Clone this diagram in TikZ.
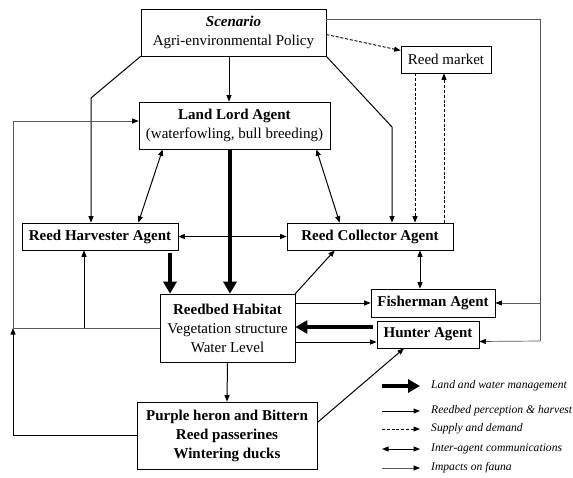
\documentclass[tikz,border=0pt]{standalone}
\usepackage{fontspec}
\setmainfont{Liberation Serif}
\usetikzlibrary{arrows.meta,calc}
\begin{document}
\begin{tikzpicture}[x=1pt,y=-1pt,
  box/.style={draw,line width=0.7pt,align=center,inner sep=0pt,font=\fontsize{15pt}{19pt}\selectfont},
  nar/.style={line width=1pt,-{Triangle[length=6.5pt 0,width=5pt 0]}},
  dar/.style={line width=1pt,{Triangle[length=6.5pt 0,width=5pt 0]}-{Triangle[length=6.5pt 0,width=5pt 0]}},
  thk/.style={line width=4.5pt,-{Triangle[length=12pt 0,width=13pt 0]}},
  dsh/.style={line width=0.9pt,dash pattern=on 3pt off 1.8pt,-{Triangle[length=6.5pt 0,width=5pt 0]}},
  imp/.style={line width=0.7pt,draw=black!65},
  impar/.style={imp,-{Triangle[length=6.5pt 0,width=5pt 0,color=black]}},
  leg/.style={anchor=west,inner sep=0pt,font=\fontsize{11.6pt}{14pt}\selectfont\itshape}]
\useasboundingbox (0,0) rectangle (573,477);
% nodes
\node[box,minimum width=185pt,minimum height=47pt] (scen) at (233.5,32.5) {\textbf{\textit{Scenario}}\\Agri-environmental Policy};
\node[box,minimum width=90pt,minimum height=27pt] (mkt) at (446,59.5) {Reed market};
\node[box,minimum width=191pt,minimum height=47pt] (land) at (234.5,125.5) {\textbf{Land Lord Agent}\\(waterfowling, bull breeding)};
\node[box,minimum width=156pt,minimum height=27pt] (harv) at (100,236.5) {\textbf{Reed Harvester Agent}};
\node[box,minimum width=166pt,minimum height=27pt] (coll) at (370,236.5) {\textbf{Reed Collector Agent}};
\node[box,minimum width=135pt,minimum height=68pt] (reed) at (227.5,328) {\textbf{Reedbed Habitat}\\Vegetation structure\\Water Level};
\node[box,minimum width=124pt,minimum height=28pt] (fish) at (433,303) {\textbf{Fisherman Agent}};
\node[box,minimum width=102pt,minimum height=27pt] (hunt) at (428,334.5) {\textbf{Hunter Agent}};
\node[box,minimum width=180pt,minimum height=67pt] (heron) at (227,435.5) {\textbf{Purple heron and Bittern}\\\textbf{Reed passerines}\\\textbf{Wintering ducks}};
% helper coordinates
\coordinate (c1) at (91,98);
\coordinate (c2) at (392,127);
\coordinate (L1) at (13,328);
\coordinate (L2) at ([yshift=4.5pt]land.west);
\coordinate (L3) at (84,328);
\coordinate (R1) at (540,19);
\coordinate (R2) at (540,341);
\coordinate (h1) at ([yshift=7.5pt]hunt.west);
\coordinate (h2) at ([yshift=-7.5pt]hunt.west);
\coordinate (h3) at ([yshift=-7pt]hunt.east);
\coordinate (t1) at ([xshift=-4.5pt]land.south);
\coordinate (t2) at ([xshift=70pt,yshift=-3pt]harv.south);
\coordinate (m1) at ([xshift=-31pt]mkt.south);
\coordinate (m2) at ([xshift=-2pt]mkt.south);
\coordinate (f1) at ([xshift=-13pt]fish.north);
% scenario links
\draw[nar] (scen.south west) -- (c1) -- (c1 |- harv.north);
\draw[nar] ([xshift=-4.5pt]scen.south) -- ([xshift=-4.5pt]scen.south |- land.north);
\draw[nar] (scen.south east) -- (c2) -- (c2 |- coll.north);
\draw[dsh] ([yshift=-2pt]scen.east) -- ([yshift=9pt]mkt.west);
\draw[dsh] (m1) -- (m1 |- coll.north);
\draw[dsh] (m2 |- coll.north) -- (m2);
% inter-agent
\draw[dar] ([xshift=24pt]land.south west) -- ([xshift=-40pt]harv.north east);
\draw[dar] ([xshift=-14pt]land.south east) -- ([xshift=53pt]coll.north west);
\draw[dar] (harv.east) -- (coll.west);
\draw[dar] (f1 |- coll.south) -- (f1);
% management
\draw[thk] (t1) -- (t1 |- reed.north);
\draw[thk] (t2) -- (t2 |- reed.north);
\draw[thk] ([xshift=-4pt]h1) -- (h1 -| reed.east);
% perception
\draw[nar] (reed.north east) -- ([xshift=48pt]coll.south west);
\draw[nar] (reed.east |- fish.west) -- (fish.west);
\draw[nar] (h2 -| reed.east) -- (h2);
\draw[nar] (reed.south) -- (heron.north);
\draw[nar] ([yshift=13pt]heron.east) -- ([xshift=-24pt]hunt.south);
\draw[nar] (heron.west) -| (L1);
\draw[nar] (L3) -- (L3 |- harv.south);
% impacts
\draw[imp] (reed.west) -- (L1);
\draw[impar] (L1) |- (L2);
\draw[imp] (R1 -| scen.east) -- (R1) -- (R2);
\draw[impar] (R1 |- fish.east) -- (fish.east);
\draw[impar] (R2) -- (h3);
% legend
\coordinate (g1) at (382,386);
\coordinate (g2) at (382,411);
\coordinate (g3) at (382,429);
\coordinate (g4) at (382,449);
\coordinate (g5) at (382,468);
\draw[thk] (g1) -- ++(38,0);
\draw[nar] (g2) -- ++(38,0);
\draw[dsh] (g3) -- ++(38,0);
\draw[dar] (g4) -- ++(38,0);
\draw[impar] (g5) -- ++(38,0);
\node[leg] (l1) at (431,386) {Land and water management};
\node[leg] (l2) at (431,411) {Reedbed perception \& harvest};
\node[leg] (l3) at (431,429) {Supply and demand};
\node[leg] (l4) at (431,449) {Inter-agent communications};
\node[leg] (l5) at (431,468) {Impacts on fauna};
\end{tikzpicture}
\end{document}
